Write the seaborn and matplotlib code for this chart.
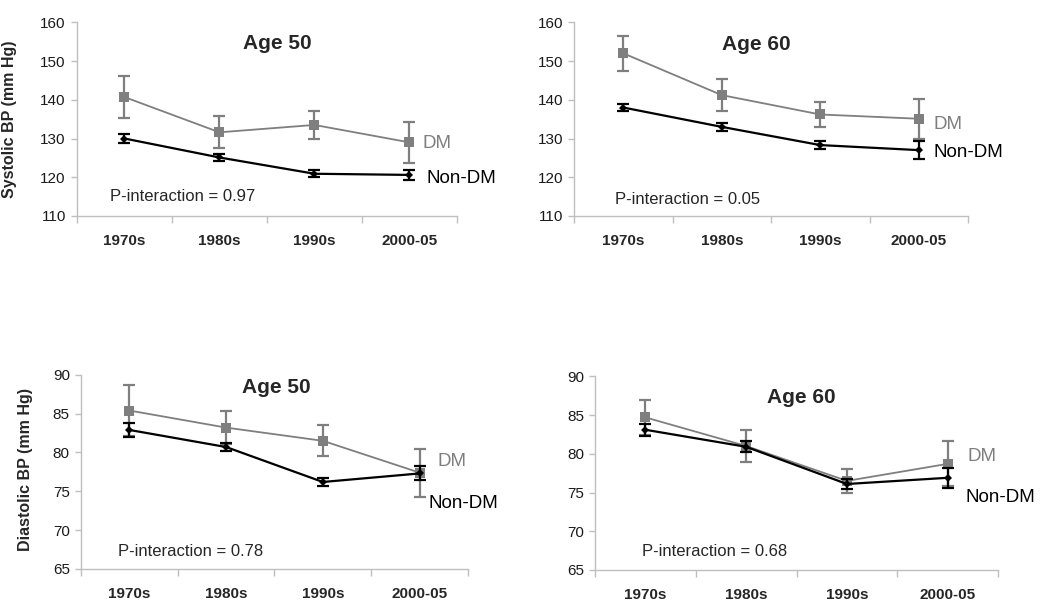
import numpy as np
import pandas as pd
import matplotlib
matplotlib.use("Agg")
import matplotlib.pyplot as plt
import seaborn as sns

# ------------------------------------------------------------------
# data
# ------------------------------------------------------------------
decades = ["1970s", "1980s", "1990s", "2000-05"]

# systolic BP, age 50
sbp50_dm = [140.7, 131.6, 133.5, 129.0]
sbp50_dm_err = [5.5, 4.1, 3.6, 5.2]
sbp50_non = [130.0, 125.1, 120.9, 120.6]
sbp50_non_err = [1.1, 0.8, 0.9, 1.3]

# systolic BP, age 60
sbp60_dm = [152.0, 141.2, 136.2, 135.1]
sbp60_dm_err = [4.5, 4.1, 3.2, 5.2]
sbp60_non = [138.0, 133.0, 128.3, 127.0]
sbp60_non_err = [1.0, 1.0, 1.0, 2.3]

# diastolic BP, age 50
dbp50_dm = [85.4, 83.2, 81.5, 77.4]
dbp50_dm_err = [3.3, 2.1, 2.0, 3.1]
dbp50_non = [82.9, 80.7, 76.2, 77.3]
dbp50_non_err = [0.85, 0.55, 0.55, 0.9]

# diastolic BP, age 60
dbp60_dm = [84.7, 81.0, 76.5, 78.7]
dbp60_dm_err = [2.3, 2.1, 1.6, 2.9]
dbp60_non = [83.1, 80.9, 76.1, 76.9]
dbp60_non_err = [0.75, 0.7, 0.65, 1.3]

p_values = ["0.97", "0.05", "0.78", "0.68"]

# ------------------------------------------------------------------
# style
# ------------------------------------------------------------------
sns.set_style("white")
plt.rcParams['font.family'] = ['Liberation Sans', 'DejaVu Sans']

GRAY = '#7f7f7f'
AXIS_GRAY = '#bfbfbf'

fig = plt.figure(figsize=(10.5, 6.16), dpi=100)

ax_tl = fig.add_axes([0.0733, 0.6494, 0.3619, 0.3144])
ax_tr = fig.add_axes([0.5467, 0.6494, 0.3752, 0.3144])
ax_bl = fig.add_axes([0.0771, 0.0763, 0.3686, 0.3153])
ax_br = fig.add_axes([0.5667, 0.0747, 0.3838, 0.3144])


def draw_panel(ax, dm, dm_err, non, non_err, ylim, yticks, title, title_xy,
               p_val, p_xy, dm_xy, non_xy):
    pos = np.arange(len(decades))
    df = pd.DataFrame({'pos': np.concatenate([pos, pos]),
                       'bp': dm + non,
                       'group': ['DM'] * 4 + ['Non-DM'] * 4})

    # DM (gray squares)
    ax.errorbar(pos, dm, yerr=dm_err, fmt='none', ecolor=GRAY,
                elinewidth=1.6, capsize=4, capthick=1.6, zorder=2)
    sns.lineplot(data=df[df['group'] == 'DM'], x='pos', y='bp', color=GRAY,
                 marker='s', markersize=6.5, markeredgewidth=0, linewidth=1.3,
                 ax=ax, zorder=3)
    # Non-DM (black diamonds)
    ax.errorbar(pos, non, yerr=non_err, fmt='none', ecolor='black',
                elinewidth=1.6, capsize=4, capthick=1.6, zorder=4)
    sns.lineplot(data=df[df['group'] == 'Non-DM'], x='pos', y='bp', color='black',
                 marker='D', markersize=4.5, markeredgewidth=0, linewidth=1.6,
                 ax=ax, zorder=5)

    ax.set_xlim(-0.5, 3.5)
    ax.set_ylim(*ylim)
    ax.set_yticks(yticks)
    ax.set_xticks([-0.5, 0.5, 1.5, 2.5, 3.5])
    ax.set_xticklabels([])
    ax.set_xticks(pos, minor=True)
    ax.set_xticklabels(decades, minor=True, fontweight='bold', fontsize=11)
    ax.tick_params(axis='x', which='major', length=5, width=1, color=AXIS_GRAY,
                   direction='out', bottom=True)
    ax.tick_params(axis='x', which='minor', length=0, pad=13, bottom=True)
    ax.tick_params(axis='y', length=4, width=1, color=AXIS_GRAY, direction='out',
                   left=True, labelsize=11, labelcolor='#1a1a1a', pad=4)
    ax.set_xlabel('')
    ax.set_ylabel('')

    for s in ['top', 'right']:
        ax.spines[s].set_visible(False)
    for s in ['left', 'bottom']:
        ax.spines[s].set_color(AXIS_GRAY)
        ax.spines[s].set_linewidth(1)

    ax.text(title_xy[0], title_xy[1], title, transform=ax.transAxes,
            ha='center', va='center', fontsize=15, fontweight='bold')
    ax.text(p_xy[0], p_xy[1], 'P-interaction = ' + p_val, transform=ax.transAxes,
            ha='left', va='center', fontsize=12)
    ax.text(dm_xy[0], dm_xy[1], 'DM', ha='left', va='center', fontsize=13.5,
            color=GRAY, clip_on=False)
    ax.text(non_xy[0], non_xy[1], 'Non-DM', ha='left', va='center', fontsize=13.5,
            color='black', clip_on=False)


draw_panel(ax_tl, sbp50_dm, sbp50_dm_err, sbp50_non, sbp50_non_err,
           (110, 160), [110, 120, 130, 140, 150, 160], 'Age 50', (0.526, 0.888),
           p_values[0], (0.087, 0.098), (3.14, 128.8), (3.18, 119.8))
draw_panel(ax_tr, sbp60_dm, sbp60_dm_err, sbp60_non, sbp60_non_err,
           (110, 160), [110, 120, 130, 140, 150, 160], 'Age 60', (0.462, 0.883),
           p_values[1], (0.104, 0.083), (3.145, 133.7), (3.145, 126.5))
draw_panel(ax_bl, dbp50_dm, dbp50_dm_err, dbp50_non, dbp50_non_err,
           (65, 90), [65, 70, 75, 80, 85, 90], 'Age 50', (0.506, 0.937),
           p_values[2], (0.096, 0.088), (3.18, 78.9), (3.09, 73.4))
draw_panel(ax_br, dbp60_dm, dbp60_dm_err, dbp60_non, dbp60_non_err,
           (65, 90), [65, 70, 75, 80, 85, 90], 'Age 60', (0.511, 0.893),
           p_values[3], (0.117, 0.093), (3.20, 79.6), (3.18, 74.3))

ax_tl.set_ylabel('Systolic BP (mm Hg)', fontsize=11.5, fontweight='bold')
ax_tl.yaxis.set_label_coords(-0.158, 0.5)
ax_bl.set_ylabel('Diastolic BP (mm Hg)', fontsize=11.5, fontweight='bold')
ax_bl.yaxis.set_label_coords(-0.124, 0.51)

fig.savefig('out.png', dpi=100, facecolor='white')
